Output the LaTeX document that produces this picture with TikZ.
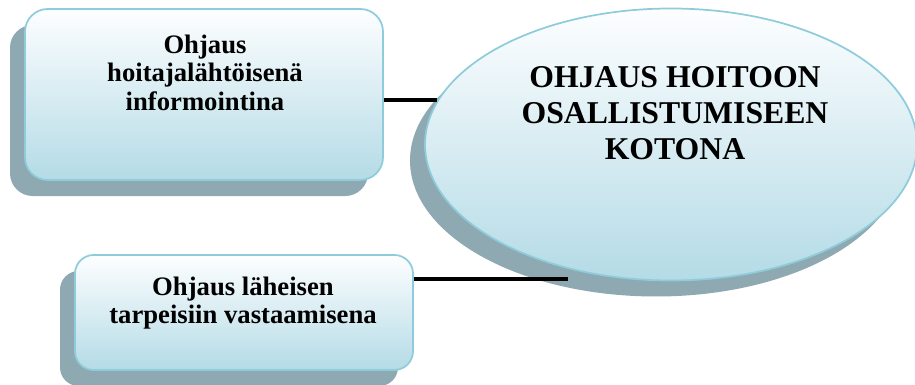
\documentclass[tikz,border=0pt]{standalone}
\usepackage{fontspec}
\setmainfont{Liberation Serif}
\usetikzlibrary{shapes.geometric,shadows}

\definecolor{edgeblue}{HTML}{8FCCDB}
\definecolor{fillbottom}{HTML}{B4DBE6}
\definecolor{filltop}{HTML}{FDFEFF}
\definecolor{shadowgray}{HTML}{8EA9B1}

\tikzset{
  panel/.style={draw=edgeblue, line width=1.3pt,
    top color=filltop, bottom color=fillbottom,
    drop shadow={shadow xshift=-11.25pt, shadow yshift=-12pt,
      fill=shadowgray, opacity=1}},
  boxshape/.style={panel, rectangle, rounded corners=17pt, inner sep=0pt},
  hubshape/.style={panel, ellipse, inner sep=0pt},
  boxtext/.style={font=\fontsize{20pt}{21.5pt}\selectfont\bfseries,
    align=center, inner sep=0pt, anchor=north},
  hubtext/.style={font=\fontsize{23.8pt}{27pt}\selectfont\bfseries,
    align=center, inner sep=0pt, anchor=north},
  link/.style={line width=2.3pt, black}
}

\begin{document}
\begin{tikzpicture}[x=0.75pt, y=-0.75pt]
  \useasboundingbox (0,0) rectangle (915,385);

  % left boxes
  \node[boxshape, minimum width=268.5pt, minimum height=128.25pt]
    (box1) at (204,94.5) {};
  \node[boxshape, rounded corners=14pt, minimum width=253.5pt, minimum height=86.25pt]
    (box2) at (244,312.5) {};

  % central ellipse
  \node[hubshape, minimum width=369pt, minimum height=204pt]
    (hub) at (671,144.5) {};

  % labels
  \node[boxtext] (t1) at (205,34.5) {Ohjaus\\hoitajalähtöisenä\\informointina};
  \node[boxtext] (t2) at (243,276.5) {Ohjaus läheisen\\tarpeisiin vastaamisena};
  \node[hubtext] (t3) at (675,66) {OHJAUS HOITOON\\OSALLISTUMISEEN\\KOTONA};

  % connectors
  \coordinate (j1) at (437,100);
  \coordinate (j2) at (568,279);
  \draw[link] (box1.east |- j1) -- (j1);
  \draw[link] (box2.east |- j2) -- (j2);
\end{tikzpicture}
\end{document}
